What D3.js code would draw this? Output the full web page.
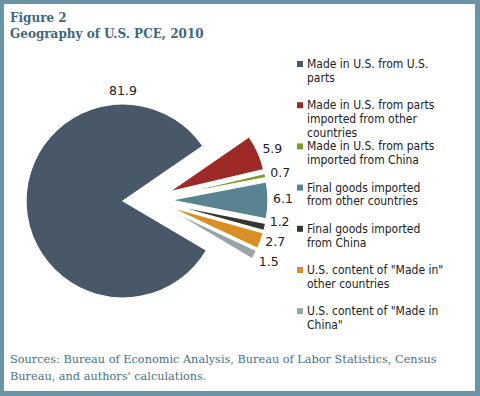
<!DOCTYPE html>
<html><head><meta charset="utf-8">
<script src="https://cdn.jsdelivr.net/npm/d3@7"></script>
<style>html,body{margin:0;padding:0;background:#fff;}svg{display:block;}</style>
</head><body>
<svg id="chart" width="480" height="396"></svg>
<script>
const categories = [
  "Made in U.S. from U.S. parts",
  "Made in U.S. from parts imported from other countries",
  "Made in U.S. from parts imported from China",
  "Final goods imported from other countries",
  "Final goods imported from China",
  "U.S. content of \"Made in\" other countries",
  "U.S. content of \"Made in China\""
];
const legendLines = [
  ["Made in U.S. from U.S.", "parts"],
  ["Made in U.S. from parts", "imported from other", "countries"],
  ["Made in U.S. from parts", "imported from China"],
  ["Final goods imported", "from other countries"],
  ["Final goods imported", "from China"],
  ["U.S. content of \"Made in\"", "other countries"],
  ["U.S. content of \"Made in", "China\""]
];
const values = [81.9, 5.9, 0.7, 6.1, 1.2, 2.7, 1.5];
const colors = ["#485868", "#9e2a27", "#7e9a2c", "#5a8391", "#36362f", "#d98f26", "#98a3aa"];
const title = ["Figure 2", "Geography of U.S. PCE, 2010"];
const sources = ["Sources: Bureau of Economic Analysis, Bureau of Labor Statistics, Census", "Bureau, and authors' calculations."];

const svg = d3.select("#chart");
const W = 480, H = 396;
svg.append("rect").attr("width", W).attr("height", H).attr("fill", "#6894a5");
svg.append("rect").attr("x", 4).attr("y", 4).attr("width", 471).attr("height", 387).attr("fill", "#fff");

const tcol = "#3f6679";
svg.selectAll("text.title").data(title).enter().append("text")
  .attr("x", 10).attr("y", (d, i) => 22 + i * 16)
  .attr("font-family", "DejaVu Serif, Georgia, serif").attr("font-weight", "bold")
  .attr("font-size", "12px").attr("fill", tcol).text(d => d);

svg.selectAll("text.src").data(sources).enter().append("text")
  .attr("x", 10).attr("y", (d, i) => 363 + i * 17)
  .attr("font-family", "DejaVu Serif, Georgia, serif")
  .attr("font-size", "11.3px").attr("fill", "#4a7088").text(d => d);

// Pie
const cx = 151, cy = 200, r = 97, explode = 20;
const rot = -2 * Math.PI / 180;
const mainSpan = values[0] / d3.sum(values) * 2 * Math.PI;
const startA = 1.5 * Math.PI - mainSpan / 2 + rot;
const pie = d3.pie().sort(null).value(d => d).startAngle(startA).endAngle(startA + 2 * Math.PI);
const arcs = pie(values);
const arc = d3.arc().innerRadius(0).outerRadius(r);
const g = svg.append("g").attr("transform", `translate(${cx},${cy})`);
const offs = arcs.map((a, i) => {
  const m = (a.startAngle + a.endAngle) / 2;
  const d = i === 0 ? 28 : explode;
  return [Math.sin(m) * d, -Math.cos(m) * d];
});
g.selectAll("path").data(arcs).enter().append("path")
  .attr("d", arc)
  .attr("transform", (d, i) => `translate(${offs[i][0]},${offs[i][1]})`)
  .attr("fill", (d, i) => colors[i])
  .attr("stroke", "#fff").attr("stroke-width", 1.2);

// labels: placed just outside each slice, then spread vertically to avoid overlap
const lab = arcs.map((a, i) => {
  const m = (a.startAngle + a.endAngle) / 2;
  if (i === 0) return {x: offs[0][0], y: -r - 13, anchor: "middle", v: values[i]};
  const R = r + 6;
  return {x: offs[i][0] + Math.sin(m) * R - 1, y: offs[i][1] - Math.cos(m) * R - 1.5, anchor: "start", v: values[i]};
});
const small = lab.slice(1);
for (let k = 0; k < 20; k++) {
  for (let i = 1; i < small.length; i++) {
    const gap = small[i].y - small[i - 1].y;
    if (gap < 20) { const s = (20 - gap) / 2; small[i].y += s; small[i - 1].y -= s; }
  }
}
g.selectAll("text.lab").data(lab).enter().append("text")
  .attr("x", d => d.x).attr("y", d => d.y)
  .attr("text-anchor", d => d.anchor).attr("dominant-baseline", "central")
  .attr("font-family", "DejaVu Sans, Verdana, sans-serif").attr("font-size", "12.5px")
  .attr("fill", "#222").text(d => d3.format(".1f")(d.v));

// legend
const lg = svg.append("g");
const items = lg.selectAll("g").data(categories).enter().append("g")
  .attr("transform", (d, i) => `translate(297,${64 + i * 41.2})`);
items.append("rect").attr("x", 0).attr("y", -3).attr("width", 6).attr("height", 6)
  .attr("fill", (d, i) => colors[i]);
items.each(function(d, i) {
  d3.select(this).selectAll("text").data(legendLines[i]).enter().append("text")
    .attr("x", 10).attr("y", (t, j) => j * 13.8)
    .attr("dominant-baseline", "central")
    .attr("font-family", "DejaVu Sans Condensed, DejaVu Sans, Tahoma, sans-serif")
    .attr("font-stretch", "condensed")
    .attr("font-size", "12px")
    .attr("fill", "#222").text(t => t);
});
</script>
</body></html>
